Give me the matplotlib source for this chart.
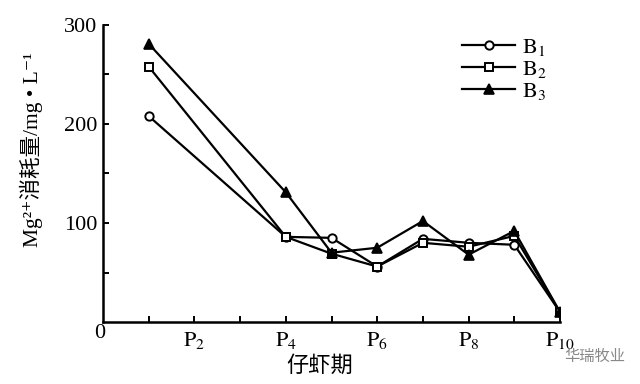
import matplotlib
matplotlib.use("Agg")
import matplotlib.pyplot as plt

# Data
x_pos = [1, 4, 5, 6, 7, 8, 9, 10]
b1 = [208, 86, 85, 56, 84, 80, 78, 10]
b2 = [258, 86, 69, 56, 80, 76, 87, 10]
b3 = [281, 131, 70, 75, 102, 68, 92, 10]
series_labels = [r"$\mathrm{B}_1$", r"$\mathrm{B}_2$", r"$\mathrm{B}_3$"]
xtick_vals = [0, 2, 4, 6, 8, 10]
xtick_labels = ["0", r"$\mathrm{P}_2$", r"$\mathrm{P}_4$", r"$\mathrm{P}_6$", r"$\mathrm{P}_8$", r"$\mathrm{P}_{10}$"]
ytick_vals = [100, 200, 300]

plt.rcParams['mathtext.fontset'] = 'stix'
plt.rcParams['font.family'] = ['Liberation Serif', 'Noto Sans CJK SC', 'DejaVu Sans']

fig = plt.figure(figsize=(6.4, 3.84), dpi=100)
ax = fig.add_axes([103/640, 62/384, 457/640, 297/384])

ax.plot(x_pos, b1, color='black', lw=1.6, marker='o', ms=6, mfc='white', mec='black', mew=1.4, label=series_labels[0])
ax.plot(x_pos, b2, color='black', lw=1.6, marker='s', ms=6, mfc='white', mec='black', mew=1.4, label=series_labels[1])
ax.plot(x_pos, b3, color='black', lw=1.6, marker='^', ms=7, mfc='black', mec='black', mew=1.2, label=series_labels[2])

ax.set_xlim(0, 10)
ax.set_ylim(0, 300)
for s in ['top', 'right']:
    ax.spines[s].set_visible(False)
for s in ['left', 'bottom']:
    ax.spines[s].set_linewidth(1.8)

ax.set_xticks(list(range(1, 11)), minor=False)
ax.set_xticklabels(["" if i not in xtick_vals else xtick_labels[xtick_vals.index(i)] for i in range(1, 11)])
ax.set_yticks(ytick_vals)
ax.set_yticks([50, 150, 250], minor=True)
ax.tick_params(axis='both', which='both', direction='in', length=4, width=1.4, labelsize=16)
ax.tick_params(axis='x', pad=6)
ax.tick_params(axis='y', pad=4)
fig.text(100/640, 1-333/384, "0", fontsize=16, ha='center', va='center', family='Liberation Serif')

fig.text(320/640, 1-365/384, "仔虾期", fontsize=16, ha='center', va='center', family=['Noto Sans CJK SC'])
fig.text(31/640, 1-150/384, "Mg²⁺消耗量/mg • L⁻¹", fontsize=15.5, rotation=90,
         ha='center', va='center', family=['Liberation Serif', 'Noto Sans CJK SC', 'DejaVu Sans'])

leg = ax.legend(loc='upper left', bbox_to_anchor=(462/640, 1-37/384), bbox_transform=fig.transFigure,
                frameon=False, fontsize=16, handlelength=2.4, handletextpad=0.3, labelspacing=0.05,
                borderaxespad=0, borderpad=0)

fig.text(595/640, 1-356/384, "华瑞牧业", fontsize=11, ha='center', va='center', color='#888888',
         family=['Noto Sans CJK SC'])

fig.savefig("out.png", dpi=100)
